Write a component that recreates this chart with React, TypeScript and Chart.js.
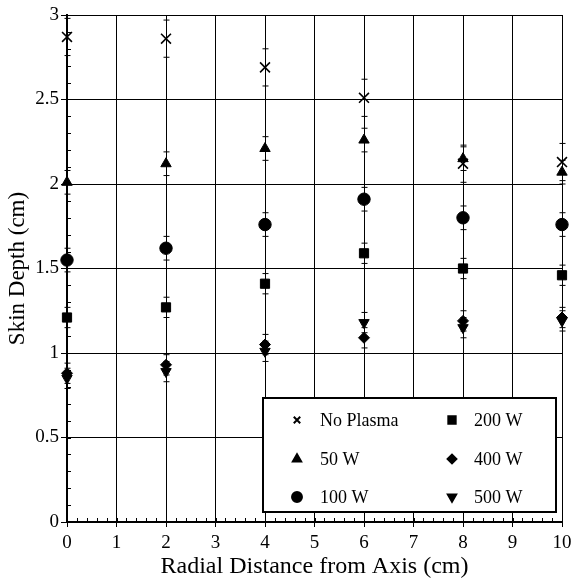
import React, { useEffect, useRef } from "react";
import { Chart, registerables } from "chart.js";
import { drawPoint } from "chart.js/helpers";

Chart.register(...registerables);

const radialPositions = [0, 2, 4, 6, 8, 10];
const seriesLabels = ["No Plasma", "50 W", "100 W", "200 W", "400 W", "500 W"];
const noPlasma = [2.87, 2.86, 2.69, 2.51, 2.12, 2.13];
const w50 = [2.01, 2.12, 2.21, 2.26, 2.15, 2.07];
const w100 = [1.55, 1.62, 1.76, 1.91, 1.8, 1.76];
const w200 = [1.21, 1.27, 1.41, 1.59, 1.5, 1.46];
const w400 = [0.88, 0.93, 1.05, 1.09, 1.19, 1.21];
const w500 = [0.85, 0.89, 1.01, 1.18, 1.15, 1.19];
const seriesErrors = [0.11, 0.07, 0.07, 0.06, 0.06, 0.06];
const xTicks = [0, 1, 2, 3, 4, 5, 6, 7, 8, 9, 10];
const yTicks = [0, 0.5, 1, 1.5, 2, 2.5, 3];

const FONT = "'Liberation Serif', 'Times New Roman', serif";

const styles = [
  { pointStyle: "crossRot", radius: 7, rotation: 0, borderWidth: 1.6, legendScale: 0.65 },
  { pointStyle: "triangle", radius: 6, rotation: 0, borderWidth: 1, legendScale: 0.8 },
  { pointStyle: "circle", radius: 6.2, rotation: 0, borderWidth: 1, legendScale: 0.8 },
  { pointStyle: "rect", radius: 6.5, rotation: 0, borderWidth: 1, legendScale: 0.8 },
  { pointStyle: "rectRot", radius: 5.5, rotation: 0, borderWidth: 1, legendScale: 0.8 },
  { pointStyle: "triangle", radius: 6, rotation: 180, borderWidth: 1, legendScale: 0.8 },
];

const seriesValues = [noPlasma, w50, w100, w200, w400, w500];

const errorBarPlugin = {
  id: "errorBars",
  beforeDatasetsDraw(chart: any) {
    const { ctx } = chart;
    const xs = chart.scales.x;
    const ys = chart.scales.y;
    ctx.save();
    ctx.strokeStyle = "#000";
    ctx.lineWidth = 1;
    chart.data.datasets.forEach((ds: any, i: number) => {
      const err = seriesErrors[i];
      ds.data.forEach((p: any) => {
        const px = Math.round(xs.getPixelForValue(p.x)) + 0.5;
        const y1 = ys.getPixelForValue(Math.min(3, p.y + err));
        const y2 = ys.getPixelForValue(p.y - err);
        ctx.beginPath();
        ctx.moveTo(px, y1);
        ctx.lineTo(px, y2);
        ctx.moveTo(px - 3, y1);
        ctx.lineTo(px + 3, y1);
        ctx.moveTo(px - 3, y2);
        ctx.lineTo(px + 3, y2);
        ctx.stroke();
      });
    });
    ctx.restore();
  },
};

const minorTickPlugin = {
  id: "minorTicks",
  afterDraw(chart: any) {
    const { ctx, chartArea } = chart;
    const xs = chart.scales.x;
    const ys = chart.scales.y;
    ctx.save();
    ctx.strokeStyle = "#000";
    ctx.lineWidth = 1;
    ctx.beginPath();
    for (let v = 0; v <= 3.0001; v += 0.1) {
      const py = Math.round(ys.getPixelForValue(v)) + 0.5;
      ctx.moveTo(chartArea.left, py);
      ctx.lineTo(chartArea.left + 4, py);
    }
    for (let v = 0; v <= 10.0001; v += 0.2) {
      const px = Math.round(xs.getPixelForValue(v)) + 0.5;
      ctx.moveTo(px, chartArea.bottom);
      ctx.lineTo(px, chartArea.bottom - 4);
    }
    ctx.stroke();
    ctx.restore();
  },
};

const legendBoxPlugin = {
  id: "legendBox",
  afterDraw(chart: any) {
    const { ctx, chartArea } = chart;
    const w = 293;
    const h = 114;
    const right = chartArea.right - 6;
    const bottom = chartArea.bottom - 10;
    const left = right - w;
    const top = bottom - h;
    ctx.save();
    ctx.fillStyle = "#fff";
    ctx.fillRect(left, top, w, h);
    ctx.strokeStyle = "#000";
    ctx.lineWidth = 2;
    ctx.strokeRect(left, top, w, h);
    ctx.font = `18px ${FONT}`;
    ctx.textBaseline = "middle";
    ctx.textAlign = "left";
    const rowY = [top + 22, top + 61, top + 99];
    const colMarker = [left + 34, left + 189];
    const colText = [left + 57, left + 211];
    const order = [
      [0, 0, 0],
      [1, 0, 1],
      [2, 0, 2],
      [3, 1, 0],
      [4, 1, 1],
      [5, 1, 2],
    ];
    order.forEach(([i, c, r]) => {
      const st = styles[i];
      ctx.fillStyle = "#000";
      ctx.strokeStyle = "#000";
      drawPoint(
        ctx,
        {
          pointStyle: st.pointStyle,
          radius: st.radius * st.legendScale,
          rotation: st.rotation,
          borderWidth: st.borderWidth,
        } as any,
        colMarker[c],
        rowY[r]
      );
      ctx.fillStyle = "#000";
      ctx.fillText(seriesLabels[i], colText[c], rowY[r] + 1);
    });
    ctx.restore();
  },
};

export default function App() {
  const ref = useRef<HTMLCanvasElement>(null);
  useEffect(() => {
    if (!ref.current) return;
    const datasets = seriesValues.map((vals, i) => ({
      label: seriesLabels[i],
      data: radialPositions.map((x, j) => ({ x, y: vals[j] })),
      showLine: false,
      clip: false as any,
      pointStyle: styles[i].pointStyle as any,
      pointRadius: styles[i].radius,
      pointRotation: styles[i].rotation,
      pointBorderWidth: styles[i].borderWidth,
      pointBackgroundColor: "#000",
      pointBorderColor: "#000",
      borderColor: "#000",
      backgroundColor: "#000",
    }));
    const chart = new Chart(ref.current, {
      type: "scatter",
      data: { datasets },
      plugins: [errorBarPlugin, minorTickPlugin, legendBoxPlugin],
      options: {
        animation: false,
        responsive: false,
        layout: { padding: { top: 15, right: 15, left: 0, bottom: 0 } },
        plugins: { legend: { display: false }, tooltip: { enabled: false } },
        scales: {
          x: {
            type: "linear",
            min: 0,
            max: 10,
            afterBuildTicks: (s: any) => {
              s.ticks = xTicks.map((v) => ({ value: v }));
            },
            afterFit: (s: any) => {
              s.height = 59;
            },
            ticks: {
              color: "#000",
              font: { family: FONT, size: 19 },
              padding: 5,
              maxRotation: 0,
              callback: (v: any) => String(v),
            },
            grid: { color: "#000", lineWidth: 1, tickLength: 5, drawTicks: true },
            border: { color: "#000", width: 2 },
            title: {
              display: true,
              text: "Radial Distance from Axis (cm)",
              color: "#000",
              font: { family: FONT, size: 24 },
              padding: { top: 0, bottom: 0 },
            },
          },
          y: {
            type: "linear",
            min: 0,
            max: 3,
            afterBuildTicks: (s: any) => {
              s.ticks = yTicks.map((v) => ({ value: v }));
            },
            afterFit: (s: any) => {
              s.width = 67;
            },
            ticks: {
              color: "#000",
              font: { family: FONT, size: 19 },
              padding: 2,
              callback: (v: any) => String(v),
            },
            grid: { color: "#000", lineWidth: 1, tickLength: 6, drawTicks: true },
            border: { color: "#000", width: 2 },
            title: {
              display: true,
              text: "Skin Depth (cm)",
              color: "#000",
              font: { family: FONT, size: 23 },
              padding: { top: 4, bottom: 0 },
            },
          },
        },
      },
    });
    return () => chart.destroy();
  }, []);
  return (
    <div style={{ position: "fixed", left: 0, top: 0, width: 577, height: 581, background: "#fff" }}>
      <canvas ref={ref} width={577} height={581} style={{ width: 577, height: 581 }} />
    </div>
  );
}
